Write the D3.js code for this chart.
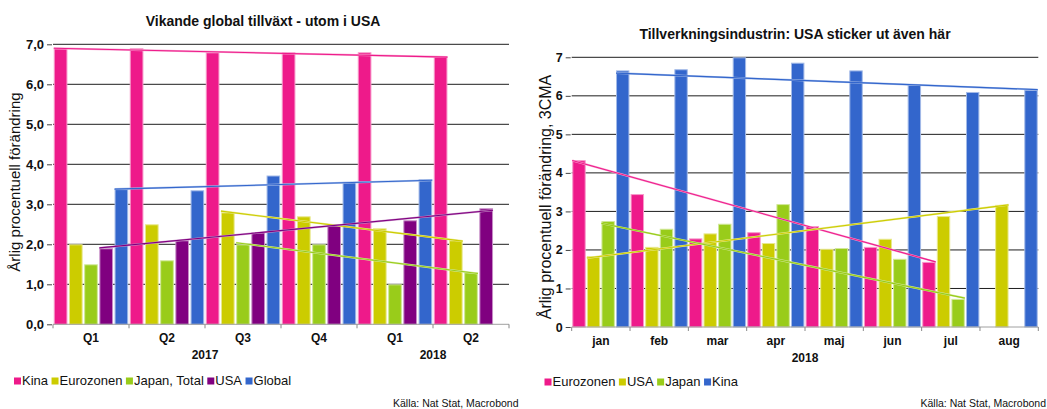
<!DOCTYPE html>
<html>
<head>
<meta charset="utf-8">
<script src="https://cdn.jsdelivr.net/npm/d3@7"></script>
<style>
  html, body { margin: 0; padding: 0; background: #fff; }
  svg { display: block; }
  text { font-family: "Liberation Sans", Arial, sans-serif; fill: #111; }
</style>
</head>
<body>
<script>
// ---------- Left chart data ----------
const leftTitle = "Vikande global tillväxt - utom i USA";
const leftYTitle = "Årlig procentuell förändring";
const leftCategories = ["Q1", "Q2", "Q3", "Q4", "Q1", "Q2"];
const leftYearLabels = ["2017", "2018"];
const leftYearSpans = [[0, 3], [4, 5]];
const leftSeriesNames = ["Kina", "Eurozonen", "Japan, Total", "USA", "Global"];
const leftKina = [6.9, 6.9, 6.8, 6.8, 6.8, 6.7];
const leftEurozonen = [2.0, 2.5, 2.8, 2.7, 2.4, 2.1];
const leftJapan = [1.5, 1.6, 2.0, 2.0, 1.0, 1.3];
const leftUSA = [1.9, 2.1, 2.3, 2.5, 2.6, 2.9];
const leftGlobal = [3.38, 3.35, 3.72, 3.56, 3.63, null];
const leftYTicks = [0, 1, 2, 3, 4, 5, 6, 7];
// trend lines: [series index, first category, start value, last category, end value]
const leftTrends = [
  [0, 0, 6.9, 5, 6.68],
  [1, 2, 2.83, 5, 2.08],
  [2, 2, 2.04, 5, 1.27],
  [3, 0, 1.91, 5, 2.85],
  [4, 0, 3.38, 4, 3.6]
];

// ---------- Right chart data ----------
const rightTitle = "Tillverkningsindustrin: USA sticker ut även här";
const rightYTitle = "Årlig procentuell förändring, 3CMA";
const rightCategories = ["jan", "feb", "mar", "apr", "maj", "jun", "jul", "aug"];
const rightYearLabels = ["2018"];
const rightYearSpans = [[0, 7]];
const rightSeriesNames = ["Eurozonen", "USA", "Japan", "Kina"];
const rightEurozonen = [4.33, 3.45, 2.30, 2.46, 2.62, 2.08, 1.69, null];
const rightUSA = [1.84, 2.08, 2.43, 2.18, 2.03, 2.29, 2.88, 3.17];
const rightJapan = [2.75, 2.55, 2.68, 3.19, 2.05, 1.77, 0.73, null];
const rightKina = [6.66, 6.69, 7.0, 6.86, 6.66, 6.29, 6.10, 6.16];
const rightYTicks = [0, 1, 2, 3, 4, 5, 6, 7];
const rightTrends = [
  [0, 0, 4.32, 6, 1.69],
  [1, 0, 1.79, 7, 3.17],
  [2, 0, 2.69, 6, 0.75],
  [3, 0, 6.59, 7, 6.16]
];

const source = "Källa: Nat Stat, Macrobond";

const PINK = "#EE1A8A", YELLOW = "#CCCC00", GREEN = "#99CC1A", PURPLE = "#800080", BLUE = "#3366CC";

const svg = d3.select("body").append("svg").attr("width", 1047).attr("height", 409);
svg.append("rect").attr("width", 1047).attr("height", 409).attr("fill", "#fff");

function lighten(c, t) { return d3.interpolateRgb(c, "#fff")(t); }

function drawChart(o) {
  const g = svg.append("g");
  const x0 = d3.scaleBand().domain(d3.range(o.categories.length)).range([o.left, o.right]).padding(0);
  const x1 = d3.scaleBand().domain(d3.range(o.series.length)).range([0, x0.bandwidth()])
    .paddingInner(o.pi).paddingOuter(o.po);
  const y = d3.scaleLinear().domain([0, 7]).range([o.bottom, o.top]);

  // title
  g.append("text").attr("x", o.titleX).attr("y", o.titleY).attr("text-anchor", "middle")
    .attr("font-size", 14).attr("font-weight", "bold").text(o.title);

  // y title
  g.append("text").attr("transform", `translate(${o.yTitleX},${o.yTitleY}) rotate(-90)`)
    .attr("text-anchor", "middle").attr("font-size", o.yTitleSize).text(o.yTitle);

  // gridlines
  g.append("g").selectAll("line").data(o.yTicks.filter(d => d > 0)).join("line")
    .attr("x1", o.left).attr("x2", o.right)
    .attr("y1", d => y(d)).attr("y2", d => y(d))
    .attr("stroke", "#1e1e1e").attr("stroke-width", 1);

  // y axis (ticks + labels) via d3 axis
  const yAxis = d3.axisLeft(y).tickValues(o.yTicks).tickSize(5).tickPadding(3).tickFormat(o.yFormat);
  const ya = g.append("g").attr("transform", `translate(${o.left - 1},0)`).call(yAxis);
  ya.select(".domain").remove();
  ya.selectAll(".tick line").attr("stroke", "#444");
  ya.selectAll(".tick text").attr("font-size", o.yLabelSize).attr("font-weight", "bold")
    .attr("font-family", '"Liberation Sans", Arial, sans-serif').attr("fill", "#111");

  // bars
  const groups = g.append("g").selectAll("g").data(o.categories).join("g")
    .attr("transform", (d, i) => `translate(${x0(i)},0)`);
  groups.each(function (cat, ci) {
    const vals = o.series.map((s, si) => ({ si, v: s.values[ci] })).filter(d => d.v != null);
    d3.select(this).selectAll("rect").data(vals).join("rect")
      .attr("x", d => x1(d.si) + 0.5)
      .attr("width", x1.bandwidth() - 1)
      .attr("y", d => y(d.v) + 0.5)
      .attr("height", d => y(0) - y(d.v) - 0.5)
      .attr("fill", d => o.series[d.si].color)
      .attr("stroke", d => lighten(o.series[d.si].color, 0.55))
      .attr("stroke-width", 1);
  });

  // baseline
  g.append("line").attr("x1", o.left).attr("x2", o.right).attr("y1", y(0)).attr("y2", y(0))
    .attr("stroke", "#a0a0a0").attr("stroke-width", 1);

  // x axis boundary ticks
  const bounds = d3.range(o.categories.length + 1).map(i => o.left + i * x0.step());
  g.append("g").selectAll("line").data(bounds).join("line")
    .attr("x1", d => d).attr("x2", d => d).attr("y1", y(0)).attr("y2", y(0) + 4)
    .attr("stroke", "#888");

  // category labels
  g.append("g").selectAll("text").data(o.categories).join("text")
    .attr("x", (d, i) => x0(i) + x0.bandwidth() / 2).attr("y", o.catY)
    .attr("text-anchor", "middle").attr("font-size", 12).attr("font-weight", "bold").text(d => d);

  // year labels
  g.append("g").selectAll("text").data(o.yearLabels).join("text")
    .attr("x", (d, i) => (x0(o.yearSpans[i][0]) + x0(o.yearSpans[i][1]) + x0.bandwidth()) / 2)
    .attr("y", o.yearY).attr("text-anchor", "middle").attr("font-size", 12).attr("font-weight", "bold")
    .text(d => d);

  // trend lines
  const tl = g.append("g");
  o.trends.forEach(t => {
    const [si, c0, v0, c1, v1] = t;
    const xa = x0(c0) + x1(si), xb = x0(c1) + x1(si) + x1.bandwidth();
    const col = o.series[si].color;
    tl.append("line").attr("x1", xa).attr("x2", xb).attr("y1", y(v0)).attr("y2", y(v1))
      .attr("stroke", lighten(col, 0.6)).attr("stroke-width", 2);
    tl.append("line").attr("x1", xa).attr("x2", xb).attr("y1", y(v0)).attr("y2", y(v1))
      .attr("stroke", col).attr("stroke-width", 1.1);
  });

  // legend
  const lg = g.append("g");
  let lx = o.legendX;
  o.series.forEach(s => {
    lg.append("rect").attr("x", lx).attr("y", o.legendY - 7.5).attr("width", 7).attr("height", 7)
      .attr("fill", s.color);
    const t = lg.append("text").attr("x", lx + 8).attr("y", o.legendY).attr("font-size", 13).text(s.name);
    lx += 8 + t.node().getComputedTextLength() + 3.5;
  });

  // source
  g.append("text").attr("x", o.sourceX).attr("y", 407).attr("text-anchor", "end")
    .attr("font-size", 10.5).text(source);
}

const commaFmt = d => d3.format(".1f")(d).replace(".", ",");

drawChart({
  title: leftTitle, titleX: 263, titleY: 26,
  yTitle: leftYTitle, yTitleX: 20, yTitleY: 182, yTitleSize: 15, yLabelSize: 13,
  categories: leftCategories, yearLabels: leftYearLabels, yearSpans: leftYearSpans,
  series: [
    { name: leftSeriesNames[0], values: leftKina, color: PINK },
    { name: leftSeriesNames[1], values: leftEurozonen, color: YELLOW },
    { name: leftSeriesNames[2], values: leftJapan, color: GREEN },
    { name: leftSeriesNames[3], values: leftUSA, color: PURPLE },
    { name: leftSeriesNames[4], values: leftGlobal, color: BLUE }
  ],
  trends: leftTrends, yTicks: leftYTicks, yFormat: commaFmt,
  left: 53, right: 509, top: 44.3, bottom: 324.3, pi: 0.1, po: 0.05,
  catY: 341.5, yearY: 359, legendX: 14, legendY: 385, sourceX: 518.5
});

drawChart({
  title: rightTitle, titleX: 795, titleY: 39,
  yTitle: rightYTitle, yTitleX: 551, yTitleY: 197, yTitleSize: 16, yLabelSize: 12.5,
  categories: rightCategories, yearLabels: rightYearLabels, yearSpans: rightYearSpans,
  series: [
    { name: rightSeriesNames[0], values: rightEurozonen, color: PINK },
    { name: rightSeriesNames[1], values: rightUSA, color: YELLOW },
    { name: rightSeriesNames[2], values: rightJapan, color: GREEN },
    { name: rightSeriesNames[3], values: rightKina, color: BLUE }
  ],
  trends: rightTrends, yTicks: rightYTicks, yFormat: d3.format("d"),
  left: 571.7, right: 1038.3, top: 57.3, bottom: 327, pi: 0.08, po: 0.04,
  catY: 344.5, yearY: 361.5, legendX: 544.5, legendY: 386, sourceX: 1046
});
</script>
</body>
</html>
